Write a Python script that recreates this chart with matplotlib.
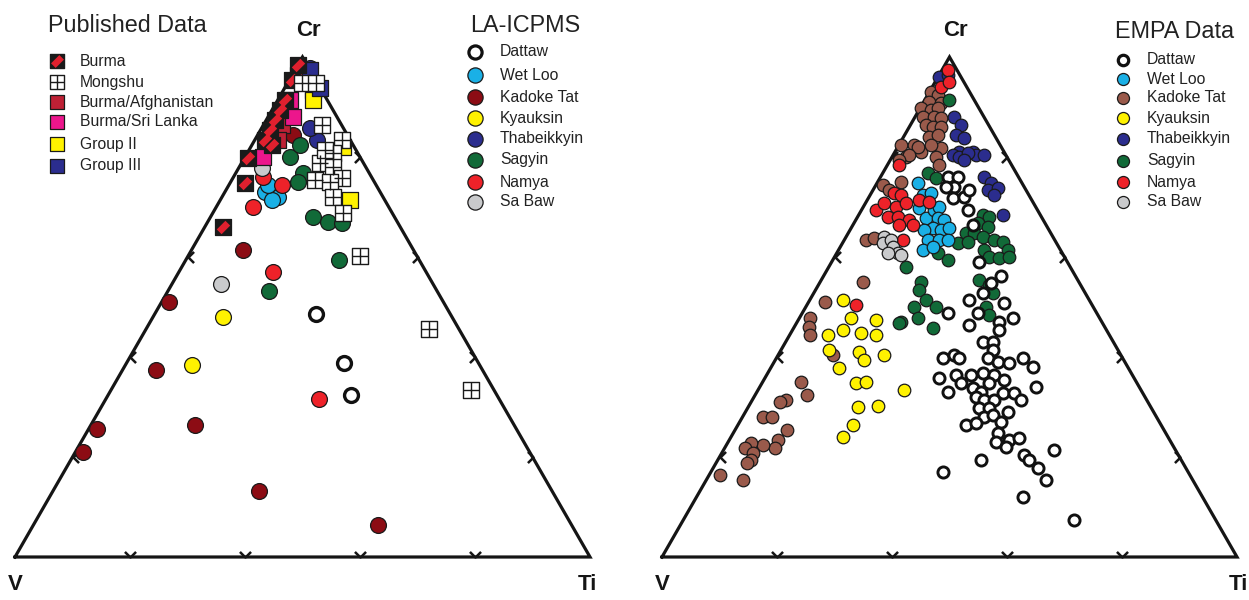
import numpy as np
import matplotlib
matplotlib.use("Agg")
import matplotlib.pyplot as plt
from matplotlib.path import Path
from matplotlib.markers import MarkerStyle

plt.rcParams['font.family'] = ['Liberation Sans', 'DejaVu Sans']

# ---------------- data : (Cr %, Ti %) pairs, V = 100 - Cr - Ti ----------------
# left diagram, LA-ICPMS circles
la_dattaw = [(48.6, 28.0), (38.9, 37.8), (32.5, 42.1)]
la_wetloo = [(73.0, 7.0), (72.0, 9.7), (71.4, 9.0), (74.4, 6.8)]
la_kadoke = [(61.4, 9.0), (51.0, 1.3), (37.4, 5.9), (25.6, 1.5), (21.0, 1.3),
             (26.4, 18.1), (13.3, 35.8), (6.4, 59.9), (84.4, 6.1)]
la_kyauksin = [(48.0, 12.2), (38.5, 11.5)]
la_thabeikkyin = [(83.4, 10.8), (85.8, 8.4), (97.8, 2.4)]
la_sagyin = [(53.3, 17.6), (59.5, 26.6), (80.0, 7.8), (82.4, 8.4), (76.8, 11.7),
             (75.0, 11.7), (68.0, 17.8), (67.0, 20.9), (66.8, 23.5)]
la_namya = [(57.1, 16.4), (31.6, 37.1), (76.0, 5.1), (74.4, 9.2), (70.0, 6.4)]
la_sabaw = [(54.7, 8.4), (77.8, 4.1)]

# left diagram, published data squares
pub_burma = [(79.8, 0.6), (74.8, 2.6), (66.0, 3.2), (85.4, 1.6), (83.4, 1.8),
             (87.4, 1.5), (89.4, 1.4), (91.4, 1.3), (82.4, 3.5), (95.4, 0.5), (98.4, 0.0)]
pub_mongshu = [(94.8, 2.5), (94.8, 4.9), (86.4, 10.2), (83.4, 15.2), (80.8, 14.9),
               (78.8, 13.6), (78.0, 16.3), (75.8, 19.0), (75.4, 14.5), (75.0, 17.3),
               (72.0, 19.3), (68.8, 22.6), (81.4, 13.2), (60.3, 29.9), (45.7, 49.2),
               (33.5, 62.6)]
pub_burma_afg = [(86.4, 3.2), (83.4, 4.0), (96.4, 1.0)]
pub_burma_sl = [(91.4, 2.1), (88.0, 4.3), (80.0, 3.1)]
pub_group2 = [(93.4, 5.1), (91.4, 6.1), (71.4, 22.6), (82.0, 16.0)]
pub_group3 = [(97.4, 2.6), (93.8, 6.1)]

# right diagram, EMPA data
empa_dattaw = [(48.8, 25.3), (51.4, 27.7), (52.8, 29.4), (48.8, 30.6), (46.4, 30.2),
               (50.8, 34.1), (47.0, 35.1), (47.8, 37.2), (45.4, 35.9), (43.0, 34.3),
               (43.0, 36.1), (41.4, 36.9), (39.8, 29.0), (40.4, 30.6), (39.8, 31.8),
               (39.8, 36.8), (39.0, 39.0), (38.8, 41.0), (39.8, 42.9), (38.0, 45.6),
               (35.8, 30.3), (36.4, 32.9), (36.4, 35.6), (36.8, 37.4), (36.4, 39.6),
               (35.4, 41.8), (33.0, 33.2), (34.8, 34.6), (33.8, 37.2), (33.0, 39.0),
               (34.8, 39.5), (32.8, 42.9), (32.8, 44.9), (31.4, 46.8), (34.0, 48.1),
               (32.0, 38.6), (31.4, 40.3), (31.4, 42.1), (29.8, 40.2), (29.8, 42.0),
               (28.0, 42.0), (28.4, 43.4), (29.0, 45.7), (27.0, 45.5), (26.4, 39.7),
               (26.8, 41.2), (24.8, 46.1), (23.0, 46.6), (23.4, 48.7), (23.8, 50.2),
               (22.0, 48.9), (20.4, 52.8), (19.4, 54.2), (17.8, 56.5), (15.4, 59.1),
               (21.4, 57.4), (19.4, 45.8), (17.0, 40.4), (12.0, 56.8), (7.4, 67.9),
               (76.0, 11.7), (76.0, 13.5), (74.0, 13.8), (74.0, 12.4), (71.8, 14.7),
               (72.0, 16.5), (73.4, 16.7), (69.4, 18.5), (66.4, 20.9), (59.0, 25.6),
               (56.2, 30.9), (54.8, 29.8)]
empa_wetloo = [(74.8, 7.1), (72.4, 9.2), (72.8, 10.4), (69.8, 9.8), (67.8, 12.0),
               (69.4, 12.6), (70.0, 13.2), (67.8, 14.1), (67.4, 15.3), (65.8, 14.2),
               (65.4, 15.8), (65.8, 17.0), (65.4, 12.8), (63.4, 14.5), (63.4, 16.5),
               (63.4, 18.0), (61.4, 14.7), (62.0, 16.1)]
empa_kadoke = [(93.0, 0.3), (92.4, 1.8), (91.0, 0.9), (90.8, 3.1), (89.8, 0.1),
               (89.4, 2.1), (89.8, 3.1), (88.0, 1.4), (88.0, 3.3), (87.8, 4.6),
               (86.4, 2.7), (86.0, 4.1), (86.0, 5.5), (84.0, 4.4), (84.4, 5.8),
               (82.4, 0.3), (82.4, 2.6), (81.0, 4.5), (81.8, 7.6), (80.0, 2.4),
               (82.0, 3.5), (82.4, 5.6), (80.4, 2.7), (80.0, 7.6), (78.4, 9.0),
               (79.4, 1.5), (74.4, 1.2), (73.4, 2.7), (75.0, 4.0), (63.4, 3.7),
               (63.8, 4.9), (55.0, 7.4), (51.0, 2.9), (47.8, 1.9), (46.0, 2.5),
               (44.4, 3.6), (40.4, 9.5), (35.0, 6.6), (32.4, 9.1), (31.4, 5.8),
               (31.0, 5.1), (28.0, 3.5), (28.0, 5.2), (25.4, 9.1), (23.4, 8.4),
               (21.8, 8.8), (22.4, 6.4), (22.8, 4.0), (21.8, 3.6), (20.8, 5.5),
               (19.4, 5.7), (18.8, 5.4), (16.4, 1.9), (15.4, 6.4)]
empa_kyauksin = [(51.4, 5.7), (47.8, 8.9), (45.4, 8.7), (44.4, 6.6), (44.8, 12.2),
                 (47.4, 13.5), (44.4, 15.1), (41.4, 8.3), (41.0, 13.7), (39.4, 15.4),
                 (40.4, 18.4), (37.8, 11.8), (34.8, 16.3), (35.0, 17.9), (33.4, 25.4),
                 (30.0, 19.0), (30.2, 22.4), (26.4, 20.0), (24.0, 19.4)]
empa_thabeikkyin = [(96.0, 0.2), (96.4, 1.5), (88.0, 6.8), (86.4, 8.8), (84.4, 8.9),
                    (83.8, 10.6), (81.0, 13.6), (80.4, 14.4), (80.4, 15.8), (81.0, 11.2),
                    (80.4, 10.4), (80.0, 11.7), (80.8, 12.8), (79.4, 12.8), (76.0, 18.0),
                    (74.8, 19.8), (73.4, 20.0), (73.8, 21.6), (72.4, 21.6), (68.4, 25.1)]
empa_sagyin = [(91.4, 4.2), (76.8, 7.8), (75.8, 9.7), (68.4, 21.6), (68.0, 22.9),
               (66.8, 21.6), (66.0, 23.7), (64.8, 20.5), (64.8, 21.9), (64.0, 23.8),
               (62.8, 20.1), (63.0, 21.7), (63.4, 26.1), (63.0, 27.8), (61.4, 29.5),
               (61.4, 25.3), (60.0, 26.9), (59.8, 28.7), (60.0, 30.4), (60.8, 17.6),
               (59.4, 20.0), (58.0, 13.4), (55.0, 17.5), (53.4, 18.0), (50.0, 18.8),
               (47.8, 20.6), (51.4, 20.2), (50.0, 22.6), (45.8, 24.2), (47.0, 18.0),
               (55.4, 27.4), (54.4, 29.7), (52.8, 31.2), (50.0, 31.4), (48.4, 32.7),
               (46.8, 17.8)]
empa_namya = [(97.4, 1.0), (94.0, 1.5), (95.0, 2.4), (78.4, 2.0), (69.4, 2.5),
              (72.8, 3.9), (72.4, 5.3), (70.8, 3.2), (70.0, 5.7), (70.8, 7.0),
              (68.0, 5.3), (68.0, 7.0), (67.4, 9.2), (66.4, 8.0), (66.4, 10.4),
              (71.4, 9.0), (71.0, 10.9), (63.4, 10.2), (50.4, 8.5)]
empa_sabaw = [(64.0, 6.6), (62.8, 7.0), (63.4, 8.1), (62.0, 9.1), (60.8, 10.6),
              (60.8, 8.9), (60.4, 11.3)]

grid_ticks = [20, 40, 60, 80]

# colours
C_WETLOO = '#1AB0E6'
C_KADOKE_LA = '#8C0C14'
C_KADOKE_EMPA = '#9A5A4B'
C_KYAUKSIN = '#FFF200'
C_THAB = '#2B2D8E'
C_SAGYIN = '#116A38'
C_NAMYA = '#EE2229'
C_SABAW = '#C9CACC'
C_BURMA_AFG = '#BE2035'
C_BURMA_SL = '#EC168C'


def tern(pts):
    a = np.asarray(pts, float)
    cr, ti = a[:, 0] / 100., a[:, 1] / 100.
    return ti + cr / 2., cr


def fpos(px, py):
    # pixel -> figure fraction
    return px / 1249., 1 - py / 600.


chev = Path([(-1, 1), (0, 0), (1, 1)], [Path.MOVETO, Path.LINETO, Path.LINETO])
stripe = [(-0.42, -0.12), (0.12, 0.42), (0.42, 0.12), (-0.12, -0.42)]


def draw_triangle(ax):
    ax.plot([0, 1, 0.5, 0], [0, 0, 1, 0], color='#151515', lw=2.3,
            solid_joinstyle='miter', zorder=1)
    f = np.array(grid_ticks) / 100.
    kw = dict(ls='none', mec='#151515', mfc='none', mew=1.8, ms=8, zorder=1)
    ax.plot(f, np.zeros_like(f), marker=MarkerStyle(chev), **kw)
    ax.plot(f / 2, f, marker=MarkerStyle(chev).rotated(deg=-90), **kw)
    ax.plot(1 - f / 2, f, marker=MarkerStyle(chev).rotated(deg=90), **kw)
    ax.set_axis_off()


fig = plt.figure(figsize=(12.49, 6.0), dpi=100)
axL = fig.add_axes([0, 0, 624 / 1249., 1])
axL.set_xlim(-15 / 575., 609 / 575.)
axL.set_ylim(-43 / 500., 557 / 500.)
axR = fig.add_axes([624 / 1249., 0, 625 / 1249., 1])
axR.set_xlim(-38 / 575., 587 / 575.)
axR.set_ylim(-43 / 500., 557 / 500.)

for ax in (axL, axR):
    draw_triangle(ax)

# ---------------- left: circles ----------------
sL = 130
circ_left = [(la_kadoke, C_KADOKE_LA), (la_kyauksin, C_KYAUKSIN), (la_sagyin, C_SAGYIN),
             (la_thabeikkyin, C_THAB), (la_wetloo, C_WETLOO), (la_namya, C_NAMYA),
             (la_sabaw, C_SABAW)]
for pts, col in circ_left:
    x, y = tern(pts)
    axL.scatter(x, y, s=sL, c=col, edgecolors='#1a1a1a', linewidths=0.9, zorder=3)
x, y = tern(la_dattaw)
axL.scatter(x, y, s=100, facecolors='white', edgecolors='#111111', linewidths=2.4, zorder=3)

# ---------------- left: squares ----------------
sq = 125
for pts, col in [(pub_burma_afg, C_BURMA_AFG), (pub_burma_sl, C_BURMA_SL),
                 (pub_group2, C_KYAUKSIN), (pub_group3, C_THAB)]:
    x, y = tern(pts)
    axL.scatter(x, y, s=sq, marker='s', c=col, edgecolors='#1a1a1a', linewidths=0.9, zorder=4)
x, y = tern(pub_burma)
axL.scatter(x, y, s=sq, marker='s', c='#1a1a1a', edgecolors='#1a1a1a', linewidths=0.9, zorder=4)
axL.scatter(x, y, s=sq * 0.75, marker=stripe, c='#E0202E', linewidths=0, zorder=4)
x, y = tern(pub_mongshu)
axL.scatter(x, y, s=sq, marker='s', c='white', edgecolors='#1a1a1a', linewidths=1.0, zorder=5)
axL.scatter(x, y, s=sq, marker='+', c='#1a1a1a', linewidths=1.0, zorder=5)

# ---------------- right: EMPA circles ----------------
sR = 82
circ_right = [(empa_kadoke, C_KADOKE_EMPA), (empa_kyauksin, C_KYAUKSIN),
              (empa_sagyin, C_SAGYIN), (empa_thabeikkyin, C_THAB),
              (empa_wetloo, C_WETLOO), (empa_namya, C_NAMYA), (empa_sabaw, C_SABAW)]
for pts, col in circ_right:
    x, y = tern(pts)
    axR.scatter(x, y, s=sR, c=col, edgecolors='#1a1a1a', linewidths=0.9, zorder=3)
x, y = tern(empa_dattaw)
axR.scatter(x, y, s=64, facecolors='white', edgecolors='#111111', linewidths=2.1, zorder=3)

# ---------------- corner labels ----------------
lab = dict(fontsize=16, fontweight='bold', ha='center', va='center', color='#151515')
for ax in (axL, axR):
    ax.text(0.51, 1.054, 'Cr', **lab)
    ax.text(0.0, -0.056, 'V', **lab)
axL.text(0.995, -0.056, 'Ti', **lab)
axR.text(1.003, -0.056, 'Ti', **lab)

# ---------------- legends ----------------
tkw = dict(fontsize=11.3, va='center', ha='left', color='#222222')


def legend_block(title, tx, ty, mx, tx2, rows, msize):
    fig.text(*fpos(tx, ty), title, fontsize=16.8, va='center', ha='left', color='#222222')
    sc = dict(transform=fig.transFigure, clip_on=False, zorder=6)
    for (label, kind, col), py in rows:
        fx, fy = fpos(mx, py)
        if kind == 'o':
            axL.scatter([fx], [fy], s=msize, c=col, edgecolors='#1a1a1a', linewidths=0.9, **sc)
        elif kind == 'ring':
            axL.scatter([fx], [fy], s=msize * 0.75, c='white', edgecolors='#111111',
                        linewidths=2.3, **sc)
        elif kind == 's':
            axL.scatter([fx], [fy], s=msize, marker='s', c=col, edgecolors='#1a1a1a',
                        linewidths=0.9, **sc)
        elif kind == 'burma':
            axL.scatter([fx], [fy], s=msize, marker='s', c='#1a1a1a', **sc)
            axL.scatter([fx], [fy], s=msize * 0.75, marker=stripe, c='#E0202E', linewidths=0, **sc)
        elif kind == 'grid':
            axL.scatter([fx], [fy], s=msize, marker='s', c='white', edgecolors='#1a1a1a',
                        linewidths=1.0, **sc)
            axL.scatter([fx], [fy], s=msize, marker='+', c='#1a1a1a', linewidths=1.0, **sc)
        fig.text(*fpos(tx2, py), label, **tkw)


pub_rows = list(zip([('Burma', 'burma', None), ('Mongshu', 'grid', None),
                     ('Burma/Afghanistan', 's', C_BURMA_AFG), ('Burma/Sri Lanka', 's', C_BURMA_SL),
                     ('Group II', 's', C_KYAUKSIN), ('Group III', 's', C_THAB)],
                    [61, 82, 102, 122, 144, 166]))
legend_block('Published Data', 48, 25, 57, 80, pub_rows, 115)

la_rows = list(zip([('Dattaw', 'ring', None), ('Wet Loo', 'o', C_WETLOO),
                    ('Kadoke Tat', 'o', C_KADOKE_LA), ('Kyauksin', 'o', C_KYAUKSIN),
                    ('Thabeikkyin', 'o', C_THAB), ('Sagyin', 'o', C_SAGYIN),
                    ('Namya', 'o', C_NAMYA), ('Sa Baw', 'o', C_SABAW)],
                   [52, 75, 97, 118, 139, 160, 182, 202]))
legend_block('LA-ICPMS', 470, 25, 475, 500, la_rows, 120)

empa_rows = list(zip([('Dattaw', 'ring', None), ('Wet Loo', 'o', C_WETLOO),
                      ('Kadoke Tat', 'o', C_KADOKE_EMPA), ('Kyauksin', 'o', C_KYAUKSIN),
                      ('Thabeikkyin', 'o', C_THAB), ('Sagyin', 'o', C_SAGYIN),
                      ('Namya', 'o', C_NAMYA), ('Sa Baw', 'o', C_SABAW)],
                     [60, 79, 98, 118, 139, 161, 182, 202]))
legend_block('EMPA Data', 1115, 31, 1123, 1147, empa_rows, 75)

fig.savefig('out.png', dpi=100, facecolor='white')
